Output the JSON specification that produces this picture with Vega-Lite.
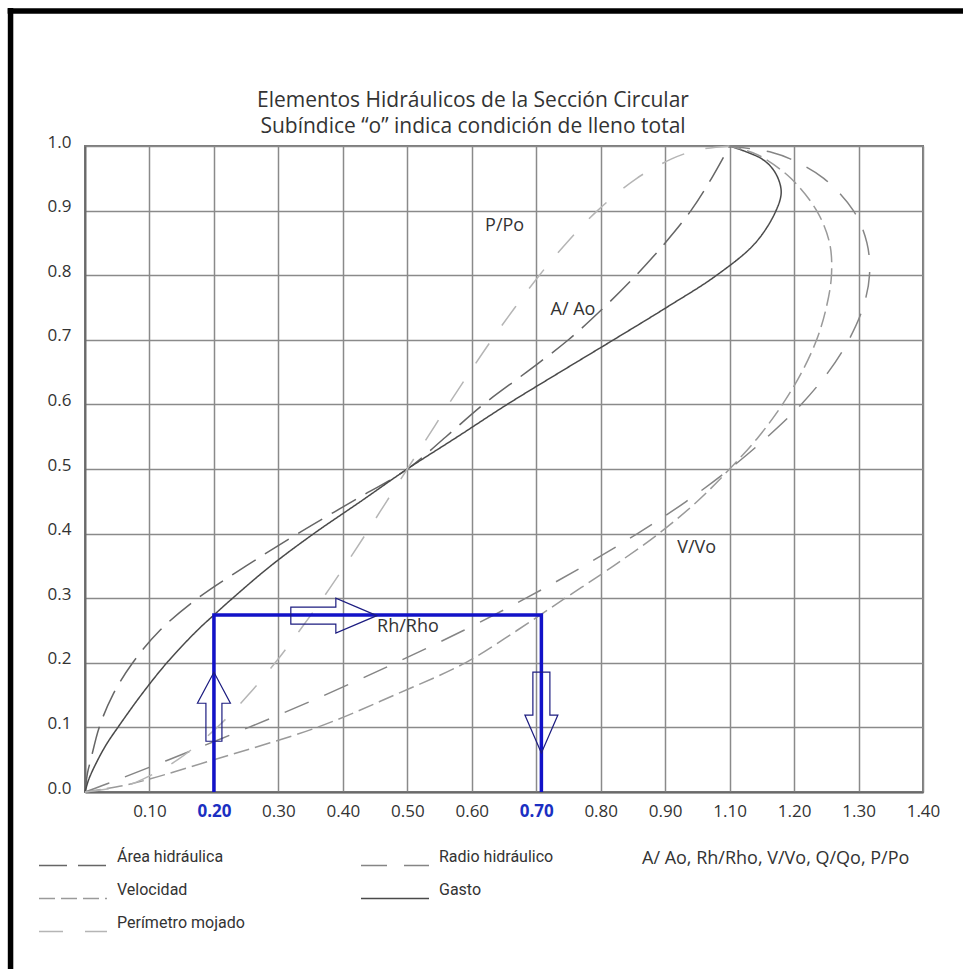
{
  "$schema": "https://vega.github.io/schema/vega-lite/v6.json",
  "width": 838,
  "height": 646,
  "autosize": {"type": "none"},
  "padding": {"left": 85, "top": 146, "right": 40, "bottom": 177},
  "background": "#ffffff",
  "title": {
    "text": ["Elementos Hidráulicos de la Sección Circular", "Subíndice “o” indica condición de lleno total"],
    "font": "Open Sans",
    "fontSize": 21,
    "fontWeight": "normal",
    "color": "#333333",
    "lineHeight": 26,
    "anchor": "middle",
    "frame": "group",
    "dx": -31,
    "dy": 161,
    "offset": 8,
    "baseline": "bottom"
  },
  "config": {
    "view": {"stroke": "#7a7a7a", "strokeWidth": 2},
    "font": "Open Sans"
  },
  "datasets": {
    "curvas": [
      {"serie": "Área hidráulica", "x": 0, "y": 0},
      {"serie": "Área hidráulica", "x": 0.004, "y": 0.03},
      {"serie": "Área hidráulica", "x": 0.009, "y": 0.05},
      {"serie": "Área hidráulica", "x": 0.022, "y": 0.1},
      {"serie": "Área hidráulica", "x": 0.043, "y": 0.15},
      {"serie": "Área hidráulica", "x": 0.074, "y": 0.2},
      {"serie": "Área hidráulica", "x": 0.116, "y": 0.25},
      {"serie": "Área hidráulica", "x": 0.175, "y": 0.3},
      {"serie": "Área hidráulica", "x": 0.25, "y": 0.35},
      {"serie": "Área hidráulica", "x": 0.33, "y": 0.4},
      {"serie": "Área hidráulica", "x": 0.415, "y": 0.45},
      {"serie": "Área hidráulica", "x": 0.5, "y": 0.5},
      {"serie": "Área hidráulica", "x": 0.56, "y": 0.55},
      {"serie": "Área hidráulica", "x": 0.618, "y": 0.6},
      {"serie": "Área hidráulica", "x": 0.685, "y": 0.65},
      {"serie": "Área hidráulica", "x": 0.75, "y": 0.7},
      {"serie": "Área hidráulica", "x": 0.805, "y": 0.75},
      {"serie": "Área hidráulica", "x": 0.855, "y": 0.8},
      {"serie": "Área hidráulica", "x": 0.9, "y": 0.85},
      {"serie": "Área hidráulica", "x": 0.94, "y": 0.9},
      {"serie": "Área hidráulica", "x": 0.972, "y": 0.95},
      {"serie": "Área hidráulica", "x": 1.0, "y": 1.0},

      {"serie": "Gasto", "x": 0, "y": 0},
      {"serie": "Gasto", "x": 0.006, "y": 0.02},
      {"serie": "Gasto", "x": 0.02, "y": 0.05},
      {"serie": "Gasto", "x": 0.034, "y": 0.075},
      {"serie": "Gasto", "x": 0.051, "y": 0.1},
      {"serie": "Gasto", "x": 0.087, "y": 0.15},
      {"serie": "Gasto", "x": 0.127, "y": 0.2},
      {"serie": "Gasto", "x": 0.174, "y": 0.25},
      {"serie": "Gasto", "x": 0.2, "y": 0.274},
      {"serie": "Gasto", "x": 0.229, "y": 0.3},
      {"serie": "Gasto", "x": 0.288, "y": 0.35},
      {"serie": "Gasto", "x": 0.355, "y": 0.4},
      {"serie": "Gasto", "x": 0.428, "y": 0.45},
      {"serie": "Gasto", "x": 0.5, "y": 0.5},
      {"serie": "Gasto", "x": 0.578, "y": 0.55},
      {"serie": "Gasto", "x": 0.655, "y": 0.6},
      {"serie": "Gasto", "x": 0.737, "y": 0.65},
      {"serie": "Gasto", "x": 0.82, "y": 0.7},
      {"serie": "Gasto", "x": 0.902, "y": 0.75},
      {"serie": "Gasto", "x": 0.98, "y": 0.8},
      {"serie": "Gasto", "x": 1.04, "y": 0.85},
      {"serie": "Gasto", "x": 1.072, "y": 0.9},
      {"serie": "Gasto", "x": 1.08, "y": 0.93},
      {"serie": "Gasto", "x": 1.07, "y": 0.96},
      {"serie": "Gasto", "x": 1.05, "y": 0.98},
      {"serie": "Gasto", "x": 1.0, "y": 1.0},

      {"serie": "Velocidad", "x": 0, "y": 0},
      {"serie": "Velocidad", "x": 0.06, "y": 0.01},
      {"serie": "Velocidad", "x": 0.1, "y": 0.02},
      {"serie": "Velocidad", "x": 0.2, "y": 0.05},
      {"serie": "Velocidad", "x": 0.36, "y": 0.1},
      {"serie": "Velocidad", "x": 0.48, "y": 0.15},
      {"serie": "Velocidad", "x": 0.59, "y": 0.2},
      {"serie": "Velocidad", "x": 0.67, "y": 0.25},
      {"serie": "Velocidad", "x": 0.745, "y": 0.3},
      {"serie": "Velocidad", "x": 0.82, "y": 0.35},
      {"serie": "Velocidad", "x": 0.89, "y": 0.4},
      {"serie": "Velocidad", "x": 0.95, "y": 0.45},
      {"serie": "Velocidad", "x": 1.0, "y": 0.5},
      {"serie": "Velocidad", "x": 1.045, "y": 0.55},
      {"serie": "Velocidad", "x": 1.082, "y": 0.6},
      {"serie": "Velocidad", "x": 1.112, "y": 0.65},
      {"serie": "Velocidad", "x": 1.135, "y": 0.7},
      {"serie": "Velocidad", "x": 1.15, "y": 0.75},
      {"serie": "Velocidad", "x": 1.158, "y": 0.8},
      {"serie": "Velocidad", "x": 1.155, "y": 0.85},
      {"serie": "Velocidad", "x": 1.135, "y": 0.9},
      {"serie": "Velocidad", "x": 1.095, "y": 0.95},
      {"serie": "Velocidad", "x": 1.055, "y": 0.98},
      {"serie": "Velocidad", "x": 1.035, "y": 0.99},
      {"serie": "Velocidad", "x": 1.0, "y": 1.0},

      {"serie": "Radio hidráulico", "x": 0, "y": 0},
      {"serie": "Radio hidráulico", "x": 0.027, "y": 0.01},
      {"serie": "Radio hidráulico", "x": 0.053, "y": 0.02},
      {"serie": "Radio hidráulico", "x": 0.13, "y": 0.05},
      {"serie": "Radio hidráulico", "x": 0.254, "y": 0.1},
      {"serie": "Radio hidráulico", "x": 0.372, "y": 0.15},
      {"serie": "Radio hidráulico", "x": 0.482, "y": 0.2},
      {"serie": "Radio hidráulico", "x": 0.587, "y": 0.25},
      {"serie": "Radio hidráulico", "x": 0.684, "y": 0.3},
      {"serie": "Radio hidráulico", "x": 0.774, "y": 0.35},
      {"serie": "Radio hidráulico", "x": 0.857, "y": 0.4},
      {"serie": "Radio hidráulico", "x": 0.933, "y": 0.45},
      {"serie": "Radio hidráulico", "x": 1.0, "y": 0.5},
      {"serie": "Radio hidráulico", "x": 1.059, "y": 0.55},
      {"serie": "Radio hidráulico", "x": 1.111, "y": 0.6},
      {"serie": "Radio hidráulico", "x": 1.153, "y": 0.65},
      {"serie": "Radio hidráulico", "x": 1.185, "y": 0.7},
      {"serie": "Radio hidráulico", "x": 1.207, "y": 0.75},
      {"serie": "Radio hidráulico", "x": 1.217, "y": 0.8},
      {"serie": "Radio hidráulico", "x": 1.213, "y": 0.85},
      {"serie": "Radio hidráulico", "x": 1.192, "y": 0.9},
      {"serie": "Radio hidráulico", "x": 1.146, "y": 0.95},
      {"serie": "Radio hidráulico", "x": 1.094, "y": 0.98},
      {"serie": "Radio hidráulico", "x": 1.066, "y": 0.99},
      {"serie": "Radio hidráulico", "x": 1.0, "y": 1.0},

      {"serie": "Perímetro mojado", "x": 0, "y": 0},
      {"serie": "Perímetro mojado", "x": 0.064, "y": 0.01},
      {"serie": "Perímetro mojado", "x": 0.09, "y": 0.02},
      {"serie": "Perímetro mojado", "x": 0.144, "y": 0.05},
      {"serie": "Perímetro mojado", "x": 0.205, "y": 0.1},
      {"serie": "Perímetro mojado", "x": 0.253, "y": 0.15},
      {"serie": "Perímetro mojado", "x": 0.295, "y": 0.2},
      {"serie": "Perímetro mojado", "x": 0.333, "y": 0.25},
      {"serie": "Perímetro mojado", "x": 0.369, "y": 0.3},
      {"serie": "Perímetro mojado", "x": 0.403, "y": 0.35},
      {"serie": "Perímetro mojado", "x": 0.436, "y": 0.4},
      {"serie": "Perímetro mojado", "x": 0.468, "y": 0.45},
      {"serie": "Perímetro mojado", "x": 0.5, "y": 0.5},
      {"serie": "Perímetro mojado", "x": 0.532, "y": 0.55},
      {"serie": "Perímetro mojado", "x": 0.564, "y": 0.6},
      {"serie": "Perímetro mojado", "x": 0.597, "y": 0.65},
      {"serie": "Perímetro mojado", "x": 0.631, "y": 0.7},
      {"serie": "Perímetro mojado", "x": 0.667, "y": 0.75},
      {"serie": "Perímetro mojado", "x": 0.705, "y": 0.8},
      {"serie": "Perímetro mojado", "x": 0.747, "y": 0.85},
      {"serie": "Perímetro mojado", "x": 0.795, "y": 0.9},
      {"serie": "Perímetro mojado", "x": 0.856, "y": 0.95},
      {"serie": "Perímetro mojado", "x": 0.91, "y": 0.98},
      {"serie": "Perímetro mojado", "x": 0.936, "y": 0.99},
      {"serie": "Perímetro mojado", "x": 0.955, "y": 0.995},
      {"serie": "Perímetro mojado", "x": 1.0, "y": 1.0}
    ],
    "guia": [
      {"i": 1, "x": 0.2, "y": 0},
      {"i": 2, "x": 0.2, "y": 0.274},
      {"i": 3, "x": 0.708, "y": 0.274},
      {"i": 4, "x": 0.708, "y": 0}
    ],
    "flechas": [
      {"dir": "arriba", "x": 0.2, "y": 0.132},
      {"dir": "derecha", "x": 0.386, "y": 0.273},
      {"dir": "abajo", "x": 0.708, "y": 0.123}
    ],
    "etiquetas": [
      {"t": "P/Po", "x": 0.651, "y": 0.876},
      {"t": "A/ Ao", "x": 0.757, "y": 0.746},
      {"t": "Rh/Rho", "x": 0.501, "y": 0.255},
      {"t": "V/Vo", "x": 0.949, "y": 0.378}
    ],
    "marco": [
      {"x": -0.12, "x2": 1.45, "y": 1.209, "y2": 1.209},
      {"x": -0.1155, "x2": -0.1155, "y": 1.2136, "y2": -0.32}
    ]
  },
  "encoding": {
    "x": {
      "field": "x",
      "type": "quantitative",
      "title": null,
      "scale": {"domain": [0, 1.3], "nice": false, "zero": false},
      "axis": {
        "values": [0.1, 0.2, 0.3, 0.4, 0.5, 0.6, 0.7, 0.8, 0.9, 1.0, 1.1, 1.2, 1.3],
        "labelExpr": "datum.value < 0.95 ? format(datum.value, '.2f') : format(datum.value + 0.1, '.2f')",
        "grid": true,
        "gridColor": "#8a8a8a",
        "gridWidth": 1.5,
        "ticks": false,
        "domainColor": "#6a6a6a",
        "domainWidth": 2,
        "labelFont": "Open Sans",
        "labelFontSize": 17,
        "labelColor": {"condition": {"test": "abs(datum.value - 0.2) < 0.001 || abs(datum.value - 0.7) < 0.001", "value": "#1b2fc2"}, "value": "#333333"},
        "labelFontWeight": {"condition": {"test": "abs(datum.value - 0.2) < 0.001 || abs(datum.value - 0.7) < 0.001", "value": "bold"}, "value": "normal"},
        "labelPadding": 11,
        "labelFlush": false,
        "labelOverlap": false
      }
    },
    "y": {
      "field": "y",
      "type": "quantitative",
      "title": null,
      "scale": {"domain": [0, 1], "nice": false, "zero": false},
      "axis": {
        "values": [0, 0.1, 0.2, 0.3, 0.4, 0.5, 0.6, 0.7, 0.8, 0.9, 1.0],
        "format": ".1f",
        "grid": true,
        "gridColor": "#8a8a8a",
        "gridWidth": 1.5,
        "ticks": false,
        "domainColor": "#6a6a6a",
        "domainWidth": 2,
        "labelFont": "Open Sans",
        "labelFontSize": 17,
        "labelColor": "#333333",
        "labelPadding": 14,
        "labelOffset": -4,
        "labelOverlap": false,
        "labelFlush": false
      }
    }
  },
  "layer": [
    {
      "data": {"name": "curvas"},
      "mark": {"type": "line", "strokeWidth": 1.5, "interpolate": "catmull-rom", "strokeCap": "butt"},
      "encoding": {
        "color": {
          "field": "serie",
          "type": "nominal",
          "title": "A/ Ao, Rh/Rho, V/Vo, Q/Qo, P/Po",
          "scale": {
            "domain": ["Área hidráulica", "Velocidad", "Perímetro mojado", "Radio hidráulico", "Gasto"],
            "range": ["#666666", "#9a9a9a", "#b5b5b5", "#858585", "#4a4a4a"]
          },
          "legend": {
            "orient": "none", "legendX": -47, "legendY": 698, "padding": 0,
            "columns": 2, "columnPadding": 115, "rowPadding": 7, "clipHeight": 26,
            "symbolType": "M-1,0.25L1,0.25", "symbolSize": 4624, "symbolStrokeWidth": 1.5,
            "labelFont": "Roboto", "labelFontSize": 16, "labelColor": "#333333", "labelOffset": 9, "labelLimit": 300,
            "titleOrient": "right", "titleAnchor": "start", "titleBaseline": "line-top", "titleLineHeight": 30, "titleAngle": 0,
            "titleFont": "Open Sans", "titleFontSize": 18, "titleFontWeight": "normal", "titleColor": "#333333", "titlePadding": 89, "titleLimit": 400
          }
        },
        "strokeDash": {
          "field": "serie",
          "type": "nominal",
          "title": "A/ Ao, Rh/Rho, V/Vo, Q/Qo, P/Po",
          "scale": {
            "domain": ["Área hidráulica", "Velocidad", "Perímetro mojado", "Radio hidráulico", "Gasto"],
            "range": [[28, 11], [16, 6], [24, 22], [26, 17], [1, 0]]
          },
          "legend": {
            "orient": "none", "legendX": -47, "legendY": 698, "padding": 0,
            "columns": 2, "columnPadding": 115, "rowPadding": 7, "clipHeight": 26,
            "symbolType": "M-1,0.25L1,0.25", "symbolSize": 4624, "symbolStrokeWidth": 1.5,
            "labelFont": "Roboto", "labelFontSize": 16, "labelColor": "#333333", "labelOffset": 9, "labelLimit": 300,
            "titleOrient": "right", "titleAnchor": "start", "titleBaseline": "line-top", "titleLineHeight": 30, "titleAngle": 0,
            "titleFont": "Open Sans", "titleFontSize": 18, "titleFontWeight": "normal", "titleColor": "#333333", "titlePadding": 89, "titleLimit": 400
          }
        },
        "order": {"field": "y", "type": "quantitative"}
      }
    },
    {
      "data": {"name": "guia"},
      "mark": {"type": "line", "color": "#1212c8", "strokeWidth": 3.5, "strokeJoin": "miter", "strokeCap": "butt"},
      "encoding": {"order": {"field": "i", "type": "quantitative"}}
    },
    {
      "data": {"name": "flechas"},
      "transform": [{"filter": "datum.dir == 'arriba'"}],
      "mark": {"type": "point", "shape": "M0,-1 L0.478,-0.101 L0.232,-0.101 L0.232,1 L-0.232,1 L-0.232,-0.101 L-0.478,-0.101 Z", "size": 4761, "filled": false, "color": "#1c1c80", "strokeWidth": 1.2, "opacity": 1}
    },
    {
      "data": {"name": "flechas"},
      "transform": [{"filter": "datum.dir == 'derecha'"}],
      "mark": {"type": "point", "shape": "M1,0 L0.047,-0.407 L0.047,-0.198 L-1,-0.198 L-1,0.198 L0.047,0.198 L0.047,0.407 Z", "size": 7396, "filled": false, "color": "#1c1c80", "strokeWidth": 1.2, "opacity": 1}
    },
    {
      "data": {"name": "flechas"},
      "transform": [{"filter": "datum.dir == 'abajo'"}],
      "mark": {"type": "point", "shape": "M0,1 L0.407,0.062 L0.21,0.062 L0.21,-1 L-0.21,-1 L-0.21,0.062 L-0.407,0.062 Z", "size": 6561, "filled": false, "color": "#1c1c80", "strokeWidth": 1.2, "opacity": 1}
    },
    {
      "data": {"name": "etiquetas"},
      "mark": {"type": "text", "font": "Open Sans", "fontSize": 18, "color": "#333333", "align": "center", "baseline": "middle"},
      "encoding": {"text": {"field": "t", "type": "nominal"}}
    },
    {
      "data": {"name": "marco"},
      "mark": {"type": "rule", "color": "#000000", "strokeWidth": 5.5, "strokeCap": "butt"},
      "encoding": {
        "x2": {"field": "x2"},
        "y2": {"field": "y2"}
      }
    }
  ]
}
